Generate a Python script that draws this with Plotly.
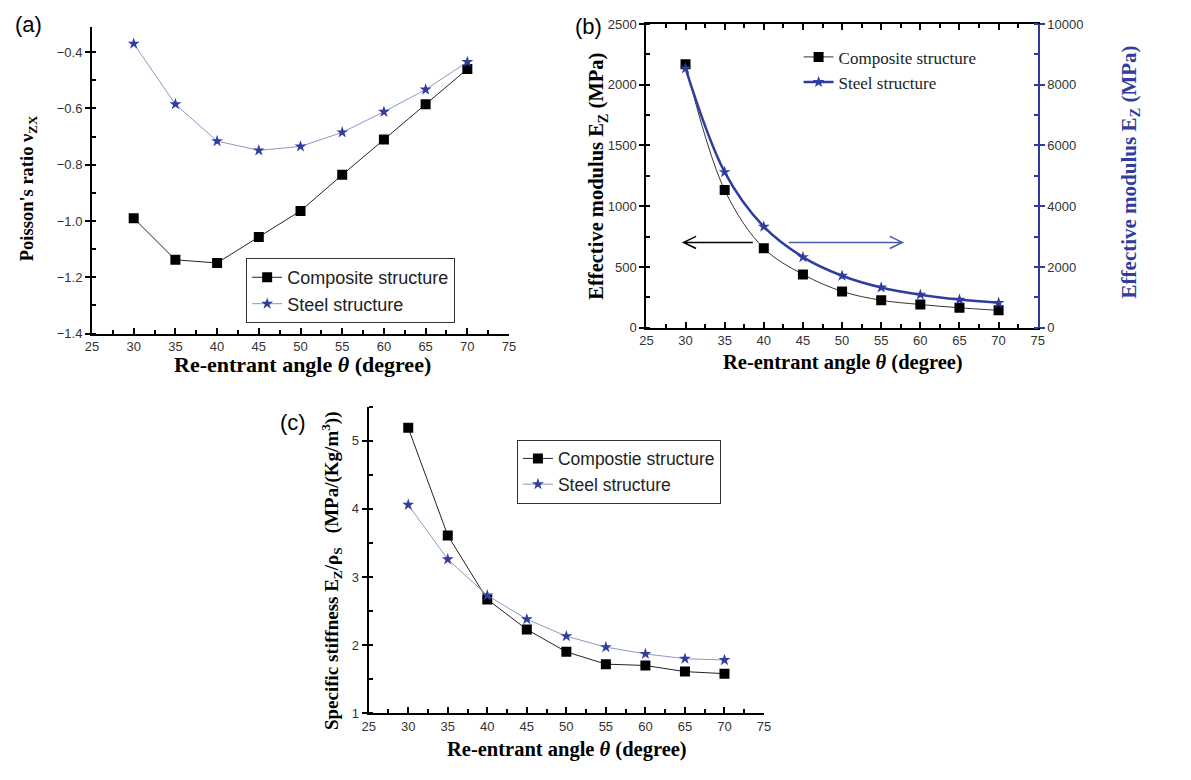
import plotly.graph_objects as go

W, H = 1191, 780

theta = [30, 35, 40, 45, 50, 55, 60, 65, 70]
poisson_composite = [-0.99, -1.138, -1.149, -1.057, -0.964, -0.836, -0.71, -0.585, -0.46]
poisson_steel = [-0.37, -0.585, -0.716, -0.749, -0.735, -0.685, -0.612, -0.533, -0.435]
modulus_composite = [2169, 1133, 654, 439, 299, 226, 191, 164, 143]
modulus_steel = [8536, 5124, 3326, 2325, 1711, 1324, 1087, 926, 818]
stiffness_composite = [5.19, 3.61, 2.67, 2.23, 1.90, 1.72, 1.70, 1.61, 1.58]
stiffness_steel = [4.06, 3.26, 2.73, 2.38, 2.13, 1.97, 1.87, 1.80, 1.78]

x_ticks = [25, 30, 35, 40, 45, 50, 55, 60, 65, 70, 75]

# arrows in panel (b): (start angle, end angle) at modulus level arrow_level
arrow_level = 702
arrow_left = (38.6, 29.75)
arrow_right = (43.2, 57.7)

BLUE = "#2f3e9e"
ARROWBLUE = "#4a5aa8"
LIGHTBLUE = "#8c98c8"
SANS = "Liberation Sans, Arial, sans-serif"
SERIF = "Liberation Serif, Times New Roman, serif"


def px(x):
    return x / W


def py(y):
    return 1 - y / H


fig = go.Figure()

# (a)
fig.add_trace(go.Scatter(x=theta, y=poisson_composite, mode="lines+markers",
                         name="Composite structure", line=dict(color="#222", width=1),
                         marker=dict(symbol="square", size=10, color="black"),
                         xaxis="x", yaxis="y", legend="legend"))
fig.add_trace(go.Scatter(x=theta, y=poisson_steel, mode="lines+markers",
                         name="Steel structure", line=dict(color=LIGHTBLUE, width=1),
                         marker=dict(symbol="star", size=9, color=BLUE),
                         xaxis="x", yaxis="y", legend="legend"))
# (b)
fig.add_trace(go.Scatter(x=theta, y=modulus_composite, mode="lines+markers",
                         name="Composite structure", line=dict(color="#333", width=1, shape="spline"),
                         marker=dict(symbol="square", size=10, color="black"),
                         xaxis="x2", yaxis="y2", legend="legend2"))
fig.add_trace(go.Scatter(x=theta, y=modulus_steel, mode="lines+markers",
                         name="Steel structure", line=dict(color=BLUE, width=2.5, shape="spline"),
                         marker=dict(symbol="star", size=9, color=BLUE),
                         xaxis="x2", yaxis="y3", legend="legend2"))
# (c)
fig.add_trace(go.Scatter(x=theta, y=stiffness_composite, mode="lines+markers",
                         name="Compostie structure", line=dict(color="#222", width=1),
                         marker=dict(symbol="square", size=10, color="black"),
                         xaxis="x3", yaxis="y4", legend="legend3"))
fig.add_trace(go.Scatter(x=theta, y=stiffness_steel, mode="lines+markers",
                         name="Steel structure", line=dict(color=LIGHTBLUE, width=1),
                         marker=dict(symbol="star", size=9, color=BLUE),
                         xaxis="x3", yaxis="y4", legend="legend3"))

tickfont = dict(family=SANS, size=13, color="#333")


def xaxis(domain, anchor, mirror=False):
    d = dict(domain=domain, anchor=anchor, range=[25, 75], tickvals=x_ticks,
             ticks="inside", ticklen=6, tickwidth=2, tickcolor="black",
             minor=dict(dtick=2.5, ticks="inside", ticklen=4, tickwidth=1.5, tickcolor="black"),
             showline=True, linewidth=2, linecolor="black", showgrid=False, zeroline=False,
             tickfont=tickfont)
    if mirror:
        d["mirror"] = "ticks"
    return d


def yaxis(domain, anchor, rng, dtick, minor, fmt=None):
    d = dict(domain=domain, anchor=anchor, range=rng, dtick=dtick, tick0=0,
             ticks="outside", ticklen=5, tickwidth=2, tickcolor="black",
             minor=dict(dtick=minor, ticks="inside", ticklen=4, tickwidth=1.5, tickcolor="black"),
             showline=True, linewidth=2, linecolor="black", showgrid=False, zeroline=False,
             tickfont=tickfont)
    if fmt:
        d["tickformat"] = fmt
    return d


dom_a_x = [px(86), px(508)]
dom_a_y = [py(333), py(20.2)]
dom_b_x = [px(647), px(1043)]
dom_b_y = [py(327), py(17.3)]
dom_c_x = [px(366), px(766)]
dom_c_y = [py(720), py(407.6)]

ax_b_right = dict(domain=dom_b_y, anchor="x2", overlaying="y2", side="right",
                  range=[0, 10000], dtick=2000, tick0=0, tickformat="d",
                  ticks="outside", ticklen=5, tickwidth=2, tickcolor=BLUE,
                  minor=dict(dtick=1000, ticks="inside", ticklen=4, tickwidth=1.5, tickcolor=BLUE),
                  showline=True, linewidth=2, linecolor=BLUE, showgrid=False, zeroline=False,
                  tickfont=dict(family=SANS, size=13, color="#333"))

ann = []
xt = "<b>Re-entrant angle <i>θ</i> (degree)</b>"
for cx, cy, fs in [(299, 365, 22), (846, 362, 20.5), (567, 757, 20.5)]:
    ann.append(dict(x=px(cx), y=py(cy), xref="paper", yref="paper", text=xt,
                    showarrow=False, font=dict(family=SERIF, size=fs, color="black"),
                    xanchor="center", yanchor="middle"))
ann.append(dict(x=px(22), y=py(185), xref="paper", yref="paper", textangle=-90,
                text="<b>Poisson's ratio ν<sub>ZX</sub></b>", showarrow=False,
                font=dict(family=SERIF, size=18.5, color="black"), xanchor="center", yanchor="middle"))
ann.append(dict(x=px(598), y=py(172), xref="paper", yref="paper", textangle=-90,
                text="<b>Effective modulus E<sub>Z</sub> (MPa)</b>", showarrow=False,
                font=dict(family=SERIF, size=20.5, color="black"), xanchor="center", yanchor="middle"))
ann.append(dict(x=px(1136), y=py(168), xref="paper", yref="paper", textangle=-90,
                text="<b>Effective modulus E<sub>Z</sub> (MPa)</b>", showarrow=False,
                font=dict(family=SERIF, size=21, color=BLUE), xanchor="center", yanchor="middle"))
ann.append(dict(x=px(329), y=py(575), xref="paper", yref="paper", textangle=-90,
                text="<b>Specific stiffness E<sub>Z</sub>/ρ<sub>S</sub>   (MPa/(Kg/m<sup>3</sup>))</b>",
                showarrow=False, font=dict(family=SERIF, size=19, color="black"),
                xanchor="center", yanchor="middle"))
for lbl, cx, cy in [("(a)", 22, 18), ("(b)", 588, 20), ("(c)", 289, 424)]:
    ann.append(dict(x=px(cx), y=py(cy), xref="paper", yref="paper", text=lbl,
                    showarrow=False, font=dict(family=SANS, size=22, color="black"),
                    xanchor="center", yanchor="middle"))

# open chevron arrows in panel (b), drawn in data coordinates
head_dx = 1.6   # degrees
head_dy = 50    # MPa
shapes = []
for (x0, x1), col in [(arrow_left, "black"), (arrow_right, ARROWBLUE)]:
    sgn = 1 if x1 < x0 else -1
    path = (f"M {x0} {arrow_level} L {x1} {arrow_level} "
            f"M {x1 + sgn * head_dx} {arrow_level + head_dy} L {x1} {arrow_level} "
            f"L {x1 + sgn * head_dx} {arrow_level - head_dy}")
    shapes.append(dict(type="path", path=path, xref="x2", yref="y2",
                       line=dict(color=col, width=1.5)))

fig.update_layout(
    width=W, height=H, margin=dict(l=0, r=0, t=0, b=0),
    paper_bgcolor="white", plot_bgcolor="white",
    xaxis=xaxis(dom_a_x, "y"),
    yaxis=yaxis(dom_a_y, "x", [-1.4, -0.31], 0.2, 0.1, ".1f"),
    xaxis2=xaxis(dom_b_x, "y2", mirror=True),
    yaxis2=yaxis(dom_b_y, "x2", [0, 2500], 500, 250),
    yaxis3=ax_b_right,
    xaxis3=xaxis(dom_c_x, "y4"),
    yaxis4=yaxis(dom_c_y, "x3", [1, 5.5], 1, 0.5),
    legend=dict(x=px(242), y=py(256), xanchor="left", yanchor="top",
                bordercolor="#333", borderwidth=1, bgcolor="white",
                font=dict(family=SANS, size=18, color="#222"), tracegroupgap=0),
    legend2=dict(x=px(801), y=py(33), xanchor="left", yanchor="top",
                 borderwidth=0, bgcolor="rgba(0,0,0,0)",
                 font=dict(family=SERIF, size=17, color="#222")),
    legend3=dict(x=px(516), y=py(441), xanchor="left", yanchor="top",
                 bordercolor="#333", borderwidth=1, bgcolor="white",
                 font=dict(family=SANS, size=17.5, color="#222")),
    annotations=ann,
    shapes=shapes,
    showlegend=True,
)

fig.write_html("out.html")
